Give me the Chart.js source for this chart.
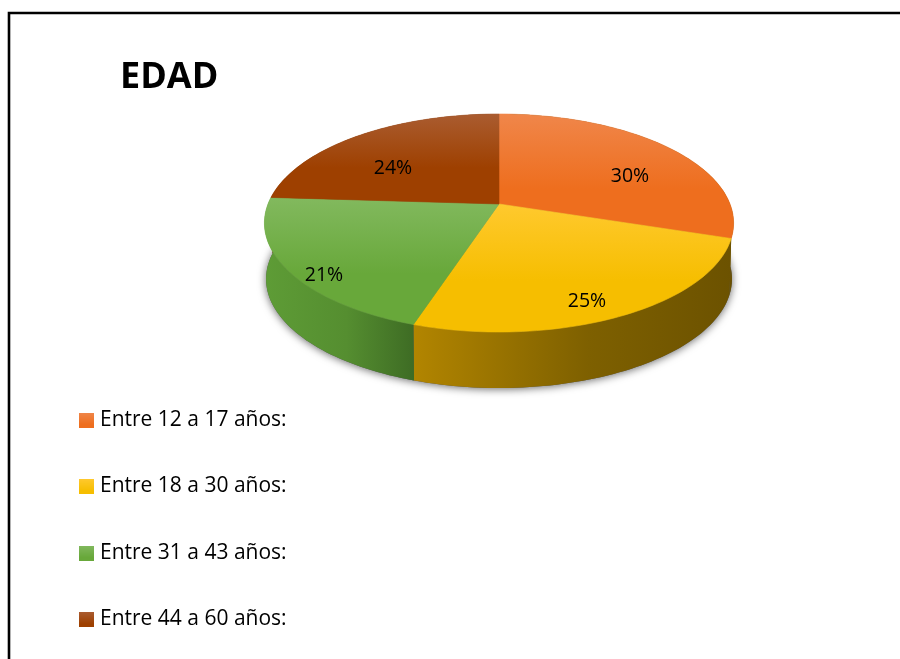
<!DOCTYPE html>
<html lang="es">
<head>
<meta charset="utf-8">
<title>EDAD</title>
<style>html,body{margin:0;padding:0;background:#fff}canvas{display:block}</style>
<script src="https://cdn.jsdelivr.net/npm/chart.js@4"></script>
</head>
<body>
<canvas id="c" width="900" height="659"></canvas>
<script>
const titleText = 'EDAD';
const categories = ['Entre 12 a 17 años:', 'Entre 18 a 30 años:', 'Entre 31 a 43 años:', 'Entre 44 a 60 años:'];
const percentages = [30, 25, 21, 24];

const faceBase  = ['#EE6E1E', '#F6BE00', '#68A83A', '#9E4000'];
const faceLight = ['#F0864A', '#FFC92E', '#82B95E', '#AA5C30'];
const wallLeft  = ['#6A5000', '#B28500', '#5E9C36', '#5E2600'];
const wallMid   = ['#6A5000', '#7E6000', '#558E30', '#5E2600'];
const wallRight = ['#6E5400', '#6C5200', '#3E6C24', '#5E2600'];

const labelX = [630, 587, 324, 393];
const labelY = [176, 301, 275, 168];

const FONT = '"Open Sans", Carlito, Calibri, sans-serif';
const FRAME = {left: 9, top: 13};
const VIEW = {back: 114, vertex: 204, front: 332, depth: 56, radius: 231};
const C = (2 * VIEW.vertex - VIEW.back - VIEW.front) / (VIEW.front - VIEW.back);
const A = VIEW.front * (1 + C) - VIEW.vertex;

function project(arc, angle, drop, shrink) {
  const s = Math.cos(angle), t = Math.sin(angle), w = 1 + C * t;
  return {
    x: arc.x + arc.outerRadius * (shrink || 1) * s / w,
    y: (VIEW.vertex + A * t) / w + (drop || 0)
  };
}
function samples(arc) {
  const n = Math.max(8, Math.ceil((arc.endAngle - arc.startAngle) * 40));
  const out = [];
  for (let i = 0; i <= n; i++) out.push(arc.startAngle + (arc.endAngle - arc.startAngle) * i / n);
  return out;
}
function swatch(i) {
  const cv = document.createElement('canvas');
  cv.width = 15; cv.height = 15;
  const g = cv.getContext('2d');
  const lg = g.createLinearGradient(0, 0, 0, 15);
  lg.addColorStop(0, faceLight[i]);
  lg.addColorStop(0.8, faceBase[i]);
  g.fillStyle = lg; g.fillRect(0, 0, 15, 15);
  return cv;
}

const pie3d = {
  id: 'pie3d',
  beforeDraw(chart) {
    const ctx = chart.ctx;
    ctx.save();
    ctx.fillStyle = '#fff';
    ctx.fillRect(0, 0, chart.width, chart.height);
    ctx.strokeStyle = '#000';
    ctx.lineWidth = 2.6;
    ctx.beginPath();
    ctx.moveTo(FRAME.left, chart.height);
    ctx.lineTo(FRAME.left, FRAME.top);
    ctx.lineTo(chart.width, FRAME.top);
    ctx.stroke();
    ctx.restore();
  },
  afterLayout(chart) {
    const t = chart.titleBlock;
    t.left = 120; t.right = 400; t.top = 56; t.bottom = t.top + t.height;
    const l = chart.legend;
    l.left = 38.5; l.right = l.left + l.width; l.top = 364; l.bottom = l.top + l.height;
  },
  beforeDatasetDraw(chart) {
    const ctx = chart.ctx;
    const arcs = chart.getDatasetMeta(0).data;
    ctx.save();
    // soft ground shadow
    ctx.save();
    ctx.shadowColor = 'rgba(0,0,0,0.6)';
    ctx.shadowBlur = 9;
    ctx.shadowOffsetY = 1;
    ctx.fillStyle = '#555';
    ctx.beginPath();
    arcs.forEach(a => samples(a).forEach(ang => {
      const p = project(a, ang, VIEW.depth, 0.993);
      ctx.lineTo(p.x, p.y);
    }));
    ctx.closePath();
    ctx.fill();
    ctx.restore();
    // side walls
    arcs.forEach((a, i) => {
      const angs = samples(a);
      const top = angs.map(x => project(a, x));
      const bot = angs.map(x => project(a, x, VIEW.depth, 0.993)).reverse();
      const visible = top.filter(p => p.y > 215);
      const xs = (visible.length ? visible : top).map(p => p.x);
      const x0 = Math.min(...xs), x1 = Math.max(...xs);
      const g = ctx.createLinearGradient(x0, 0, x1, 0);
      g.addColorStop(0, wallLeft[i]);
      g.addColorStop(0.55, wallMid[i]);
      g.addColorStop(1, wallRight[i]);
      ctx.fillStyle = g;
      ctx.beginPath();
      top.concat(bot).forEach(p => ctx.lineTo(p.x, p.y));
      ctx.closePath();
      ctx.fill();
    });
    // top faces
    arcs.forEach((a, i) => {
      const rim = samples(a).map(x => project(a, x));
      const ys = rim.map(p => p.y).concat(VIEW.vertex);
      const y0 = Math.min(...ys), y1 = Math.max(...ys);
      const g = ctx.createLinearGradient(0, y0, 0, y1);
      g.addColorStop(0, faceLight[i]);
      g.addColorStop(0.6, faceBase[i]);
      g.addColorStop(1, faceBase[i]);
      ctx.fillStyle = g;
      ctx.strokeStyle = g;
      ctx.lineWidth = 0.6;
      ctx.beginPath();
      ctx.moveTo(a.x, VIEW.vertex);
      rim.forEach(p => ctx.lineTo(p.x, p.y));
      ctx.closePath();
      ctx.fill();
      ctx.stroke();
    });
    ctx.restore();
    return false;
  },
  afterDatasetsDraw(chart) {
    const ctx = chart.ctx;
    ctx.save();
    ctx.fillStyle = '#000';
    ctx.font = '19.5px ' + FONT;
    ctx.textAlign = 'center';
    ctx.textBaseline = 'middle';
    percentages.forEach((v, i) => ctx.fillText(v + '%', labelX[i], labelY[i]));
    ctx.restore();
  }
};

new Chart(document.getElementById('c'), {
  type: 'pie',
  data: {
    labels: categories,
    datasets: [{
      data: percentages,
      backgroundColor: faceBase,
      borderWidth: 0
    }]
  },
  options: {
    responsive: false,
    animation: false,
    rotation: 0,
    layout: {padding: {left: 268, right: 170, top: 0, bottom: 0}},
    plugins: {
      tooltip: {enabled: false},
      title: {
        display: true,
        text: titleText,
        align: 'start',
        color: '#000',
        padding: 0,
        font: {family: FONT, size: 36, weight: 'bold'}
      },
      legend: {
        display: true,
        position: 'chartArea',
        align: 'start',
        labels: {
          color: '#000',
          font: {family: FONT, size: 21},
          usePointStyle: true,
          pointStyleWidth: 5.5,
          padding: 45.5,
          generateLabels(chart) {
            return categories.map((text, i) => ({
              text, index: i, datasetIndex: 0, hidden: false,
              fontColor: '#000', lineWidth: 0,
              strokeStyle: 'transparent', fillStyle: faceBase[i],
              pointStyle: swatch(i)
            }));
          }
        }
      }
    }
  },
  plugins: [pie3d]
});
</script>
</body>
</html>
